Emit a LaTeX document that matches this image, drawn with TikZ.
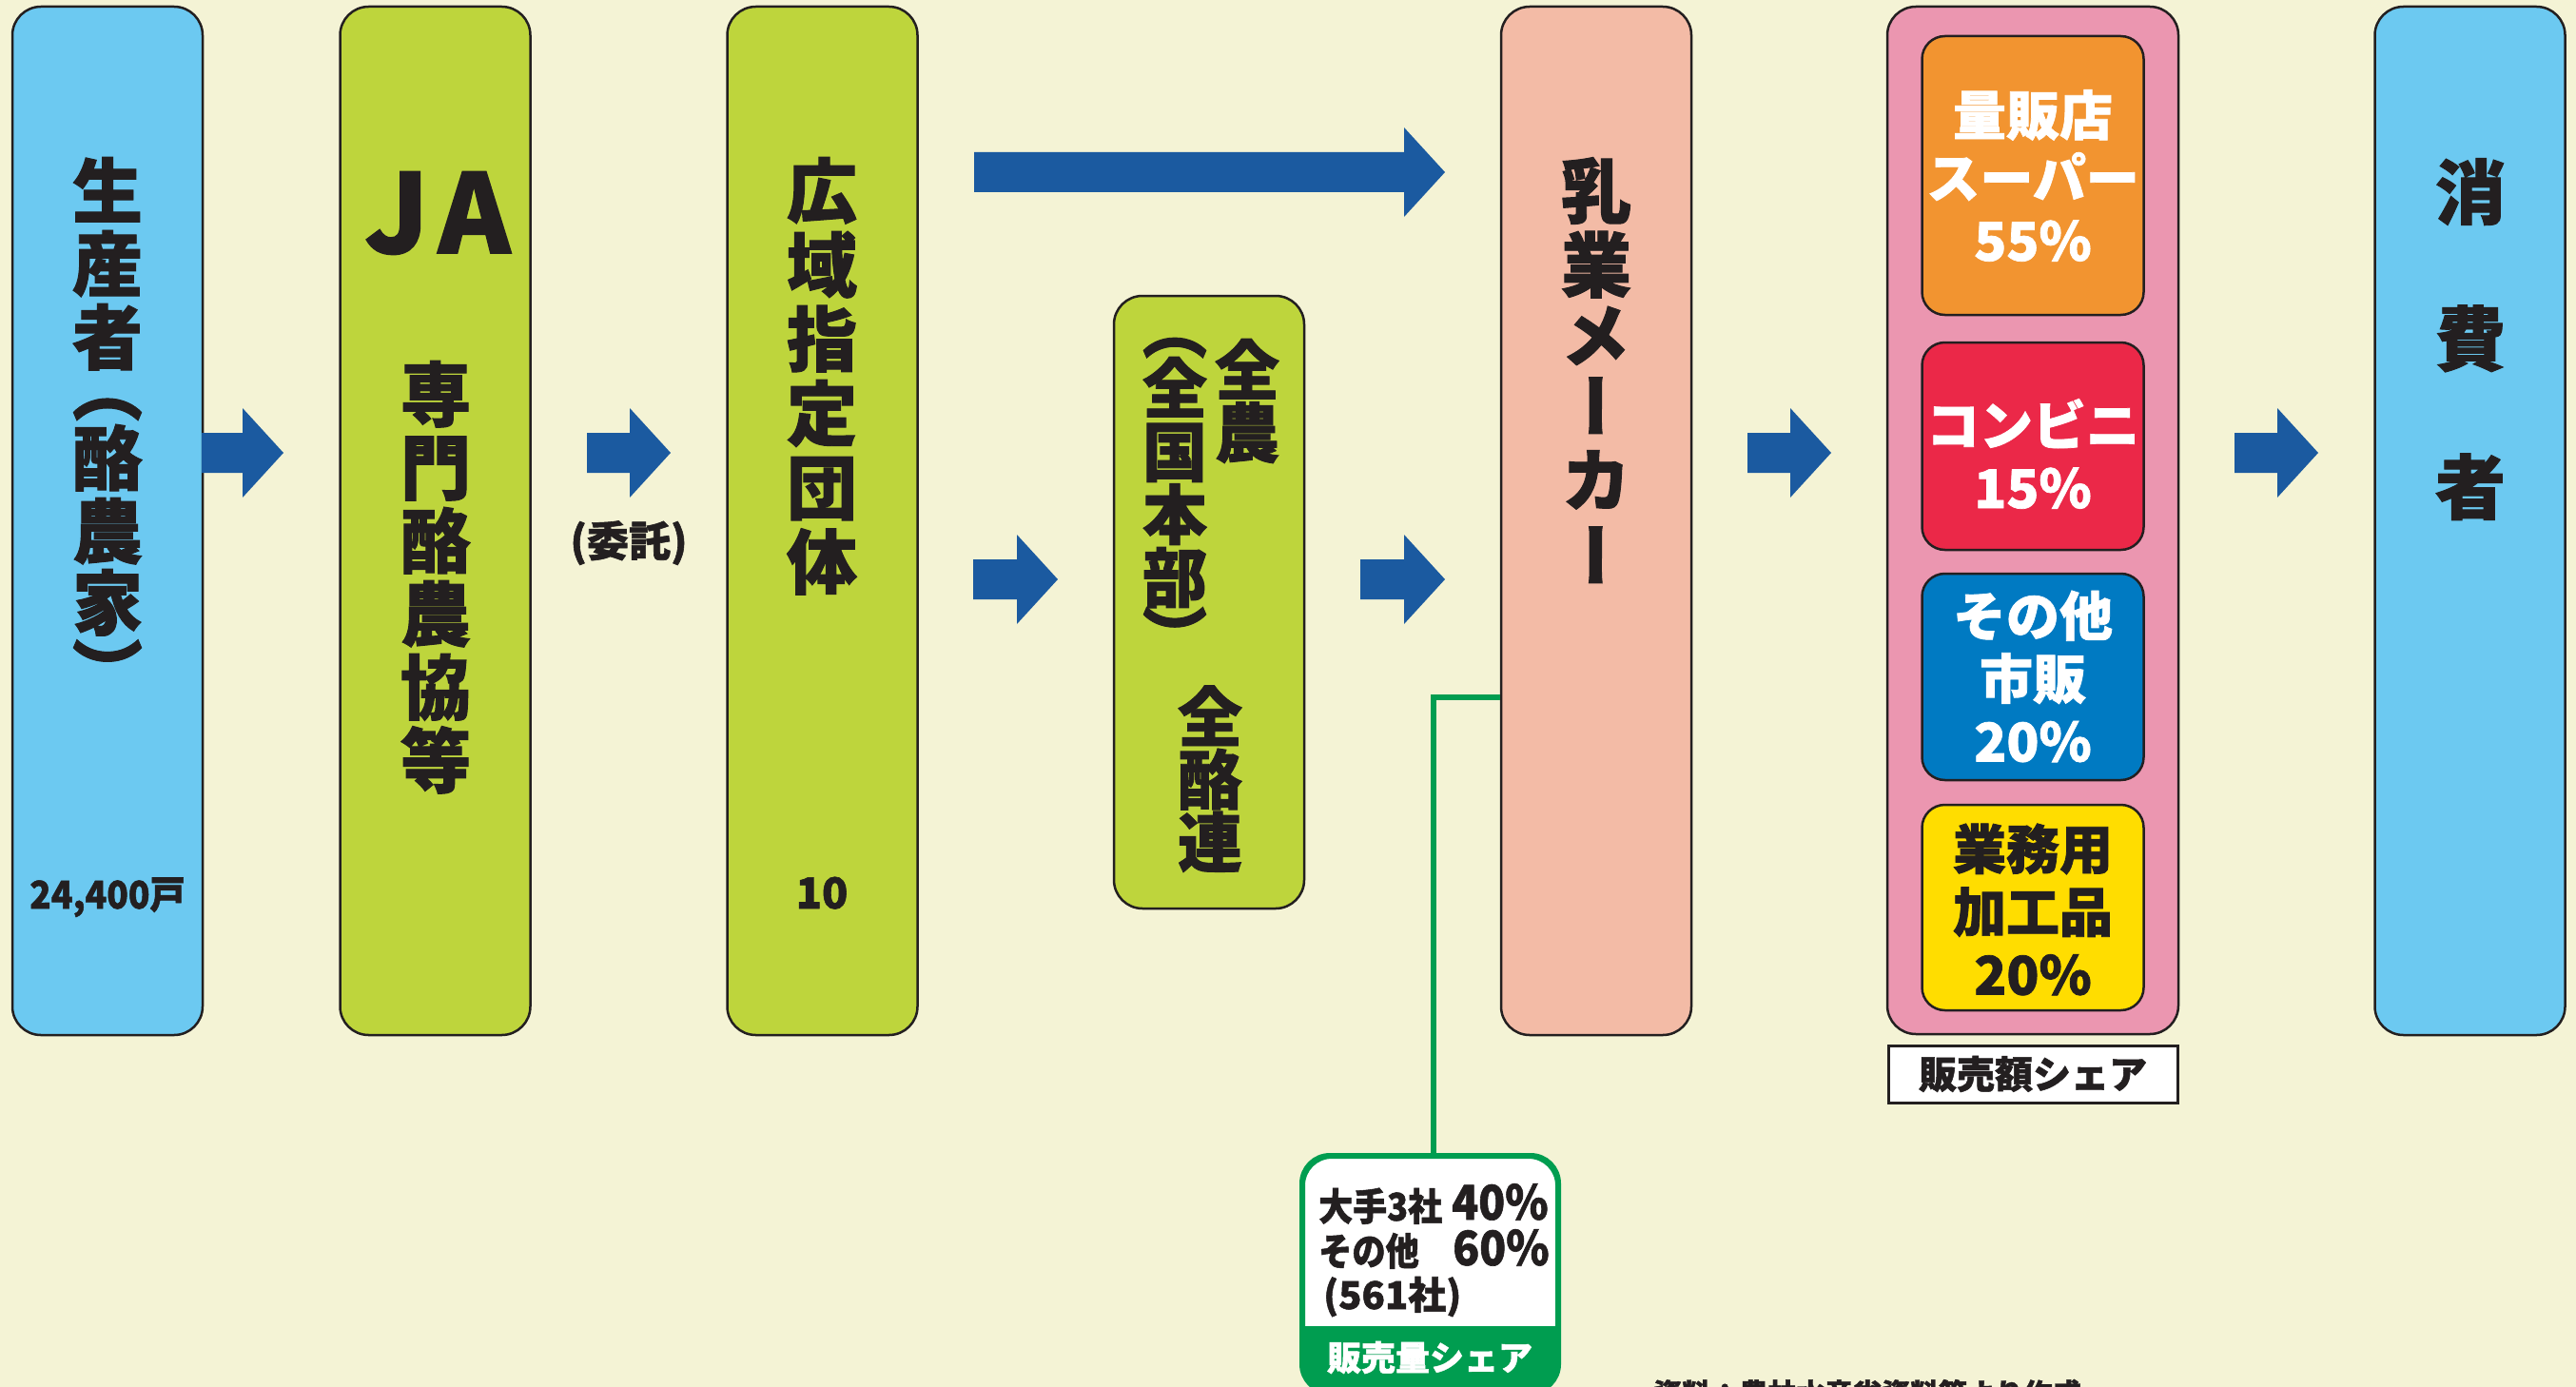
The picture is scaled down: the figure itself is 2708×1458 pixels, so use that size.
\documentclass[tikz,border=0pt]{standalone}
\usepackage{fontspec}
\usetikzlibrary{calc}
\newfontfamily\jp{Noto Sans CJK JP}[BoldFeatures={FakeBold=1.3}]
\newfontfamily\jpv{Noto Sans CJK JP}[RawFeature=+vert, BoldFeatures={FakeBold=1.3}]
\definecolor{bg}{RGB}{244,243,213}
\definecolor{lblue}{RGB}{108,201,241}
\definecolor{lime}{RGB}{190,213,60}
\definecolor{salmon}{RGB}{243,187,166}
\definecolor{pinkbox}{RGB}{235,150,176}
\definecolor{orangebox}{RGB}{242,148,48}
\definecolor{redbox}{RGB}{235,40,72}
\definecolor{bluebox}{RGB}{0,122,194}
\definecolor{yellowbox}{RGB}{255,221,0}
\definecolor{arrowblue}{RGB}{27,90,160}
\definecolor{greenc}{RGB}{0,157,80}
\definecolor{ink}{RGB}{35,31,32}
\newcommand\fsz[1]{\fontsize{#1}{#1}\selectfont}
\newcommand\vg[1]{\hbox to 0pt{\hss\raisebox{-0.38em}[0pt][0pt]{#1}\hss}}
\newcommand\vk[1]{\kern#1pt\relax}
\newcommand\vstack[1]{\vbox{\offinterlineskip#1}}
\newcommand\fatarrow[2]{\fill[arrowblue] let \p1=(#1), \p2=(#2) in
  (\x1,\y1+21pt) -- (\x2-43pt,\y1+21pt) -- (\x2-43pt,\y1+47pt) -- (\x2,\y1)
  -- (\x2-43pt,\y1-47pt) -- (\x2-43pt,\y1-21pt) -- (\x1,\y1-21pt) -- cycle;}
\tikzset{
  box/.style={draw=ink, line width=2.5pt, rounded corners=30pt, minimum width=200pt, minimum height=1081pt, inner sep=0pt},
  inbox/.style={draw=ink, line width=2.5pt, rounded corners=24pt, minimum width=233pt, inner sep=0pt},
  vt/.style={inner sep=0pt, anchor=north, text=ink, font=\jpv\bfseries\fsz{74}},
  vts/.style={inner sep=0pt, anchor=north, text=ink, font=\jpv\bfseries\fsz{68}},
  lbl/.style={inner sep=0pt, text=ink, font=\jp\bfseries\fsz{#1}},
  wlbl/.style={inner sep=0pt, text=white, align=center, font=\jp\bfseries\fontsize{56}{66}\selectfont},
  greenline/.style={draw=greenc, line width=6pt},
}
\begin{document}
\begin{tikzpicture}[x=1pt,y=-1pt]
\path[use as bounding box, fill=bg] (0,0) rectangle (2708,1458);

% main boxes
\node[box, fill=lblue] (prod) at (113,547.5) {};
\node[box, fill=lime] (ja) at (457.5,547.5) {};
\node[box, fill=lime] (kouiki) at (864.5,547.5) {};
\node[box, fill=lime, minimum height=644pt] (zennou) at (1271,633) {};
\node[box, fill=salmon] (maker) at (1678,547.5) {};
\node[box, fill=pinkbox, minimum width=306pt, minimum height=1080pt] (retail) at (2137,547) {};
\node[inbox, fill=orangebox, minimum height=293pt] (mass) at (2137,184.5) {};
\node[inbox, fill=redbox, minimum height=218pt] (conv) at (2137,469) {};
\node[inbox, fill=bluebox, minimum height=217pt] (other) at (2137,711.5) {};
\node[inbox, fill=yellowbox, minimum height=216pt] (gyomu) at (2137,954) {};
\node[box, fill=lblue] (cons) at (2596.5,547.5) {};
\node[draw=ink, fill=white, line width=3pt, minimum width=304pt, minimum height=60pt, inner sep=0pt, text=ink, font=\jp\bfseries\fsz{40}] (share) at (2137,1129) {販売額シェア};

% vertical texts
\node[vt] (tprod) at (113,200) {\vstack{\vg{生}\vk{77}\vg{産}\vk{77}\vg{者}\vk{54}\vg{︵}\vk{73}\vg{酪}\vk{77}\vg{農}\vk{75}\vg{家}\vk{73}\vg{︶}}};
\node[lbl=40, anchor=base] (tprodn) at (113,955) {\scalebox{0.93}[1]{24,400戸}};
\node[lbl=115] (tja) at (460,224) {J\kern10pt A};
\node[vt] (tjab) at (458,414) {\vstack{\vg{専}\vk{77}\vg{門}\vk{77}\vg{酪}\vk{77}\vg{農}\vk{77}\vg{協}\vk{77}\vg{等}}};
\node[vt] (tkouiki) at (864,200) {\vstack{\vg{広}\vk{78}\vg{域}\vk{78}\vg{指}\vk{78}\vg{定}\vk{78}\vg{団}\vk{78}\vg{体}}};
\node[lbl=45, anchor=base] (tkouikin) at (864,955) {10};
\node[lbl=44, anchor=base] (titaku) at (661,585) {(委託)};
\node[vts] (tzen1) at (1311,388.5) {\vstack{\vg{全}\vk{66}\vg{農}}};
\node[vts] (tzen2) at (1235,345) {\vstack{\vg{︵}\vk{62.5}\vg{全}\vk{67}\vg{国}\vk{66}\vg{本}\vk{66}\vg{部}\vk{62.5}\vg{︶}}};
\node[vts] (tzen3) at (1272,753) {\vstack{\vg{全}\vk{66}\vg{酪}\vk{66}\vg{連}}};
\node[vt] (tmaker) at (1678,200) {\vstack{\vg{乳}\vk{78}\vg{業}\vk{74}\vg{メ}\vk{75}\vg{ー}\vk{77}\vg{カ}\vk{80}\vg{ー}}};
\node[vt] (tcons) at (2597,201.5) {\vstack{\vg{消}\vk{154}\vg{費}\vk{156}\vg{者}}};

% retail texts
\node[wlbl] (tmass) at (2137,184.5) {量販店\\スーパー\\55\%};
\node[wlbl] (tconv) at (2137,477) {コンビニ\\15\%};
\node[wlbl] (tother) at (2137,711) {その他\\市販\\20\%};
\node[wlbl, text=ink] (tgyomu) at (2137,956) {業務用\\加工品\\20\%};

% arrows
\coordinate (a1s) at (212,476);  \coordinate (a1t) at (298,476);
\coordinate (a2s) at (617,476);  \coordinate (a2t) at (705,476);
\coordinate (a3s) at (1024,181); \coordinate (a3t) at (1519,181);
\coordinate (a4s) at (1023,609); \coordinate (a4t) at (1112,609);
\coordinate (a5s) at (1430,609); \coordinate (a5t) at (1519,609);
\coordinate (a6s) at (1837,476); \coordinate (a6t) at (1925,476);
\coordinate (a7s) at (2349,476); \coordinate (a7t) at (2437,476);
\fatarrow{a1s}{a1t}
\fatarrow{a2s}{a2t}
\fatarrow{a3s}{a3t}
\fatarrow{a4s}{a4t}
\fatarrow{a5s}{a5t}
\fatarrow{a6s}{a6t}
\fatarrow{a7s}{a7t}

% green share box
\coordinate (gturn) at (1507,733);
\node[draw=greenc, fill=white, line width=4pt, rounded corners=30pt, minimum width=267pt, minimum height=246pt, inner sep=0pt] (gbox) at (1503.5,1339) {};
\draw[greenline] (maker.west |- gturn) -- (gturn) -- (gturn |- gbox.north);
\begin{scope}
\clip[rounded corners=30pt] (gbox.south west) rectangle (gbox.north east);
\fill[greenc] (gbox.south west) rectangle (gbox.east |- 0,1394);
\end{scope}
\draw[greenc, line width=4pt, rounded corners=30pt] (gbox.south west) rectangle (gbox.north east);
\node[lbl=40, anchor=base west] (g1a) at (1386,1283) {\scalebox{0.9}[1]{大手3社}};
\node[lbl=50, anchor=base west] (g1b) at (1526,1282) {\scalebox{0.92}[1]{40\%}};
\node[lbl=40, anchor=base west] (g2a) at (1386,1330) {\scalebox{0.88}[1]{その他}};
\node[lbl=50, anchor=base west] (g2b) at (1527,1330) {\scalebox{0.92}[1]{60\%}};
\node[lbl=40, anchor=base west] (g3) at (1391,1376) {(561社)};
\node[lbl=36, text=white] (gshare) at (1503,1427) {販売量シェア};

% footer (cut off at bottom)
\node[lbl=30, anchor=base west] (footer) at (1738,1476) {資料：農林水産省資料等より作成};
\end{tikzpicture}
\end{document}
